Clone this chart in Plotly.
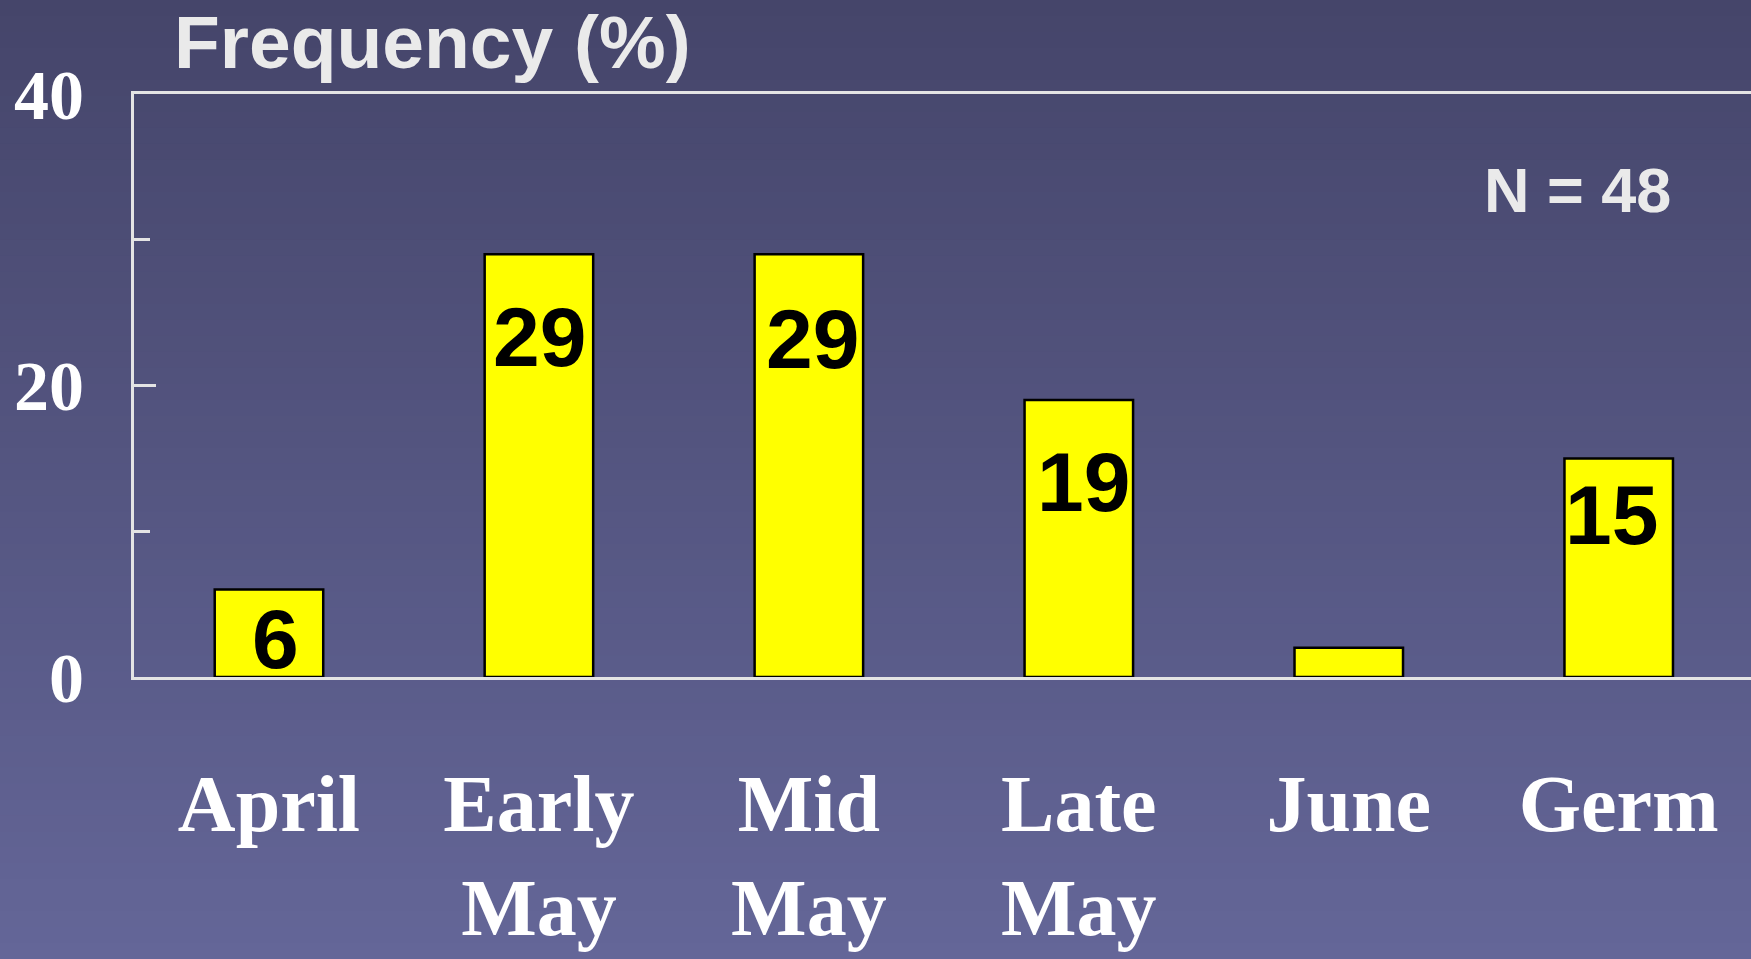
import plotly.graph_objects as go

categories = ["April", "Early<br>May", "Mid<br>May", "Late<br>May", "June", "Germ"]
values = [6, 29, 29, 19, 2, 15]
bar_labels = ["6", "29", "29", "19", "", "15"]
y_tick_vals = [0, 20, 40]
y_tick_text = ["0", "20", "40"]
y_minor_vals = [10, 30]

# label offsets (pixels) for bar value labels
label_yshift = [-49, -83, -85, -82, 0, -57]
label_xshift = [7, 1, 4, 5, 0, -7]

W, H = 1751, 959
ML, MR, MT, MB = 134, 0, 94, 282
PW, PH = W - ML - MR, H - MT - MB

fig = go.Figure()
fig.add_trace(go.Bar(
    x=list(range(len(categories))), y=values, width=0.402,
    marker=dict(color="#FFFF00", line=dict(color="#000000", width=2.5)),
    showlegend=False, hoverinfo="skip",
))

# background gradient via strips
top = (69, 69, 106)
bot = (100, 102, 152)
n = 60
shapes = []
for i in range(n):
    p0 = i * H / n
    p1 = (i + 1) * H / n + 1
    t = (i + 0.5) / n
    c = tuple(round(top[k] + (bot[k] - top[k]) * t) for k in range(3))
    shapes.append(dict(
        type="rect", xref="paper", yref="paper", layer="below",
        x0=-ML / PW - 0.01, x1=1.01,
        y0=(H - MB - p1) / PH, y1=(H - MB - p0) / PH,
        line=dict(width=0), fillcolor="rgb(%d,%d,%d)" % c,
    ))

annotations = []
for i, (v, t) in enumerate(zip(values, bar_labels)):
    if t:
        annotations.append(dict(
            x=i, y=v, xref="x", yref="y", text=t, showarrow=False,
            xanchor="center", yanchor="middle",
            yshift=label_yshift[i], xshift=label_xshift[i],
            font=dict(family="Liberation Sans", size=84, color="#000000", weight="bold"),
        ))

annotations.append(dict(
    x=5.2, y=33.4, xref="x", yref="y", text="N = 48", showarrow=False,
    xanchor="right", yanchor="middle",
    font=dict(family="Liberation Sans", size=63, color="#EAEAEA", weight="bold"),
))
annotations.append(dict(
    x=(172 - ML) / PW, y=(H - MB - 42) / PH, xref="paper", yref="paper",
    text="Frequency (%)", showarrow=False, xanchor="left", yanchor="middle",
    font=dict(family="Liberation Sans", size=75, color="#EAEAEA", weight="bold"),
))

axis_col = "#E4E4E4"
fig.update_layout(
    width=W, height=H, autosize=False,
    margin=dict(l=ML, r=MR, t=MT, b=MB, pad=0),
    paper_bgcolor="rgb(85,86,128)", plot_bgcolor="rgba(0,0,0,0)",
    shapes=shapes, annotations=annotations, bargap=0.6,
    xaxis=dict(
        range=[-0.5, 5.49], tickmode="array",
        tickvals=list(range(len(categories))), ticktext=categories,
        showline=True, linecolor=axis_col, linewidth=3, mirror=True,
        ticks="", showgrid=False, zeroline=False,
        tickfont=dict(family="Liberation Serif", size=80, color="#FFFFFF", weight="bold"),
        ticklabelstandoff=55,
    ),
    yaxis=dict(
        range=[0, 40], tickmode="array", tickvals=y_tick_vals, ticktext=y_tick_text,
        showline=True, linecolor=axis_col, linewidth=3, mirror=False,
        ticks="inside", ticklen=22, tickwidth=2.5, tickcolor=axis_col,
        minor=dict(tickmode="array", tickvals=y_minor_vals, ticks="inside",
                   ticklen=16, tickwidth=2.5, tickcolor=axis_col, showgrid=False),
        showgrid=False, zeroline=False,
        tickfont=dict(family="Liberation Serif", size=70, color="#FFFFFF", weight="bold"),
        ticklabelstandoff=33,
    ),
)

fig.write_html("out.html", config={"displayModeBar": False},
               post_script="document.body.style.margin='0';document.body.style.overflow='hidden';")
